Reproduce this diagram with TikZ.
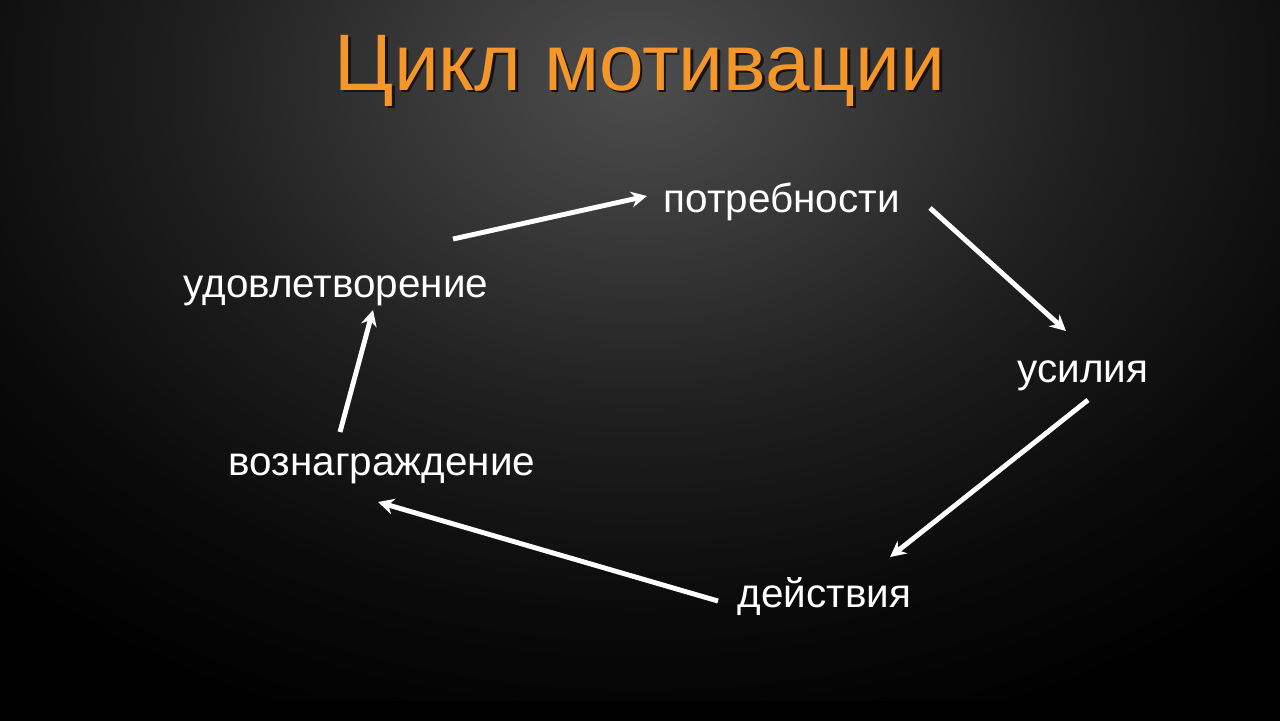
\documentclass[tikz,border=0pt]{standalone}
\usepackage{fontspec}
\setmainfont{Liberation Sans}
\usetikzlibrary{arrows.meta}
\definecolor{titleorange}{RGB}{245,150,40}
\definecolor{titleshadow}{RGB}{20,20,20}
\pgfdeclareradialshading{slidebg}{\pgfpoint{0bp}{0bp}}{%
  color(0bp)=(black!70!white); color(5bp)=(black!77!white);
  color(12bp)=(black!88!white); color(19bp)=(black!96!white);
  color(25bp)=(black); color(50bp)=(black)}
\tikzset{
  label/.style={text=white,font=\fontsize{11.5}{14}\selectfont,inner sep=0pt},
  titlefont/.style={font=\fontsize{22.8}{28}\selectfont,inner sep=0pt},
  cyclearrow/.style={draw=white,line width=1.4pt,-{Stealth[length=4.5pt,width=4.5pt]}}
}
\begin{document}
\begin{tikzpicture}[x=0.01cm,y=-0.01cm]
    \useasboundingbox (0,0) rectangle (1280,720);
    % background
    \fill[black] (-10,-10) rectangle (1290,730);
    \begin{scope}
        \clip (-10,-10) rectangle (1290,700);
        \shade[shading=slidebg] (640,80) ellipse (950 and 700);
    \end{scope}

    % title
    \node[titlefont,anchor=base,text=titleshadow] at (642.5,92.5) {Цикл мотивации};
    \node[titlefont,anchor=base,text=titleorange] (title) at (640,90) {Цикл мотивации};

    \node[label,anchor=base west] (needs) at (663,212) {потребности};
    \node[label,anchor=base west] (effort) at (1017,382) {усилия};
    \node[label,anchor=base west] (action) at (737,607) {действия};
    \node[label,anchor=base west] (reward) at (228,475) {вознаграждение};
    \node[label,anchor=base west] (satisf) at (183,297) {удовлетворение};

    \coordinate (satisf-out) at (453,239);
    \coordinate (needs-in) at (647,196);
    \coordinate (needs-out) at (930,208);
    \coordinate (effort-in) at (1066,331);
    \coordinate (effort-out) at (1088,400);
    \coordinate (action-in) at (890,557);
    \coordinate (action-out) at (718,601);
    \coordinate (reward-in) at (378,502);
    \coordinate (reward-out) at (340,432);
    \coordinate (satisf-in) at (373,310);

    \draw[cyclearrow] (satisf-out) -- (needs-in);
    \draw[cyclearrow] (needs-out) -- (effort-in);
    \draw[cyclearrow] (effort-out) -- (action-in);
    \draw[cyclearrow] (action-out) -- (reward-in);
    \draw[cyclearrow] (reward-out) -- (satisf-in);
\end{tikzpicture}
\end{document}
